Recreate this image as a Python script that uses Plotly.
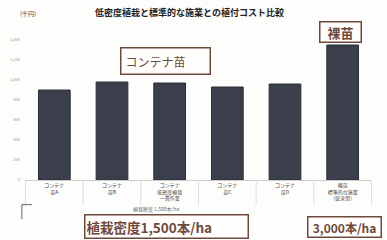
import plotly.graph_objects as go

categories = ["コンテナ<br>苗A", "コンテナ<br>苗B", "コンテナ<br>低密度植栽<br>一貫作業", "コンテナ<br>苗C", "コンテナ<br>苗D", "裸苗<br>標準的な施業<br>(従来型)"]
values = [900, 980, 970, 930, 960, 1350]
y_ticks = [0, 200, 400, 600, 800, 1000, 1200, 1400]

bar_color = "#3a3f4b"
brown = "#6e4a3c"
font = "Noto Sans CJK JP"

fig = go.Figure(go.Bar(
    x=categories, y=values, width=0.55,
    marker=dict(color=bar_color, line=dict(color="#2b2f37", width=1)),
))

fig.update_layout(
    width=387, height=240,
    margin=dict(l=25, r=15, t=35, b=60, autoexpand=False),
    paper_bgcolor="#fdfdfb", plot_bgcolor="#fdfdfb",
    showlegend=False,
    font=dict(family=font, color="#555"),
)
fig.update_xaxes(
    tickfont=dict(size=5, color="#444"),
    showline=True, linecolor="#ccc", linewidth=1,
    showgrid=False, ticks="", automargin=False,
)
fig.update_yaxes(
    range=[0, 1450], tickvals=y_ticks,
    ticktext=[f"{v:,}" for v in y_ticks],
    tickfont=dict(size=4, color="#999"), ticklabelstandoff=4,
    showgrid=False, zeroline=False, showline=False, automargin=False,
)

# category separators
for i in range(7):
    fig.add_shape(type="line", xref="x", yref="paper",
                  x0=i - 0.5, x1=i - 0.5, y0=0, y1=-0.17,
                  line=dict(color="#ddd", width=1))
# bracket at lower left
fig.add_shape(type="line", xref="paper", yref="paper",
              x0=-0.009, x1=-0.009, y0=-0.17, y1=-0.27,
              line=dict(color="#666", width=1))
fig.add_shape(type="line", xref="paper", yref="paper",
              x0=-0.009, x1=0.02, y0=-0.17, y1=-0.17,
              line=dict(color="#666", width=1))

plain = dict(showarrow=False, xref="paper", yref="paper", xanchor="center", yanchor="middle")
fig.add_annotation(text="<b>低密度植栽と標準的な施業との植付コスト比較</b>",
                   x=0.4755, y=1.152, font=dict(size=9, color="#222", family=font), **plain)
fig.add_annotation(text="(千円)", x=0.009, y=1.145,
                   font=dict(size=6, color="#444", family=font), **plain)
fig.add_annotation(text="植栽密度 1,500本/ha", x=0.38, y=-0.2,
                   font=dict(size=5, color="#666", family=font), **plain)

box = dict(showarrow=False, bordercolor=brown, borderwidth=1.5,
           bgcolor="#fffefc", xref="paper", yref="paper", xanchor="center", yanchor="middle")
fig.add_annotation(text="コンテナ苗", x=0.4035, y=0.821, width=80, borderpad=4, align="left",
                   font=dict(size=12, color=brown, family=font), **box)
fig.add_annotation(text="<b>裸苗</b>", x=0.909, y=1.021, width=40, borderpad=0,
                   font=dict(size=13, color=brown, family=font), **box)
fig.add_annotation(text="<b>植栽密度1,500本/ha</b>", x=0.409, y=-0.324, width=160, borderpad=1, align="left",
                   font=dict(size=13.5, color=brown, family=font), **box)
fig.add_annotation(text="<b>3,000本/ha</b>", x=0.922, y=-0.324, width=70, borderpad=1,
                   font=dict(size=12, color=brown, family=font), **box)

fig.write_html("out.html", config={"displayModeBar": False},
               post_script="document.body.style.margin='0';")
